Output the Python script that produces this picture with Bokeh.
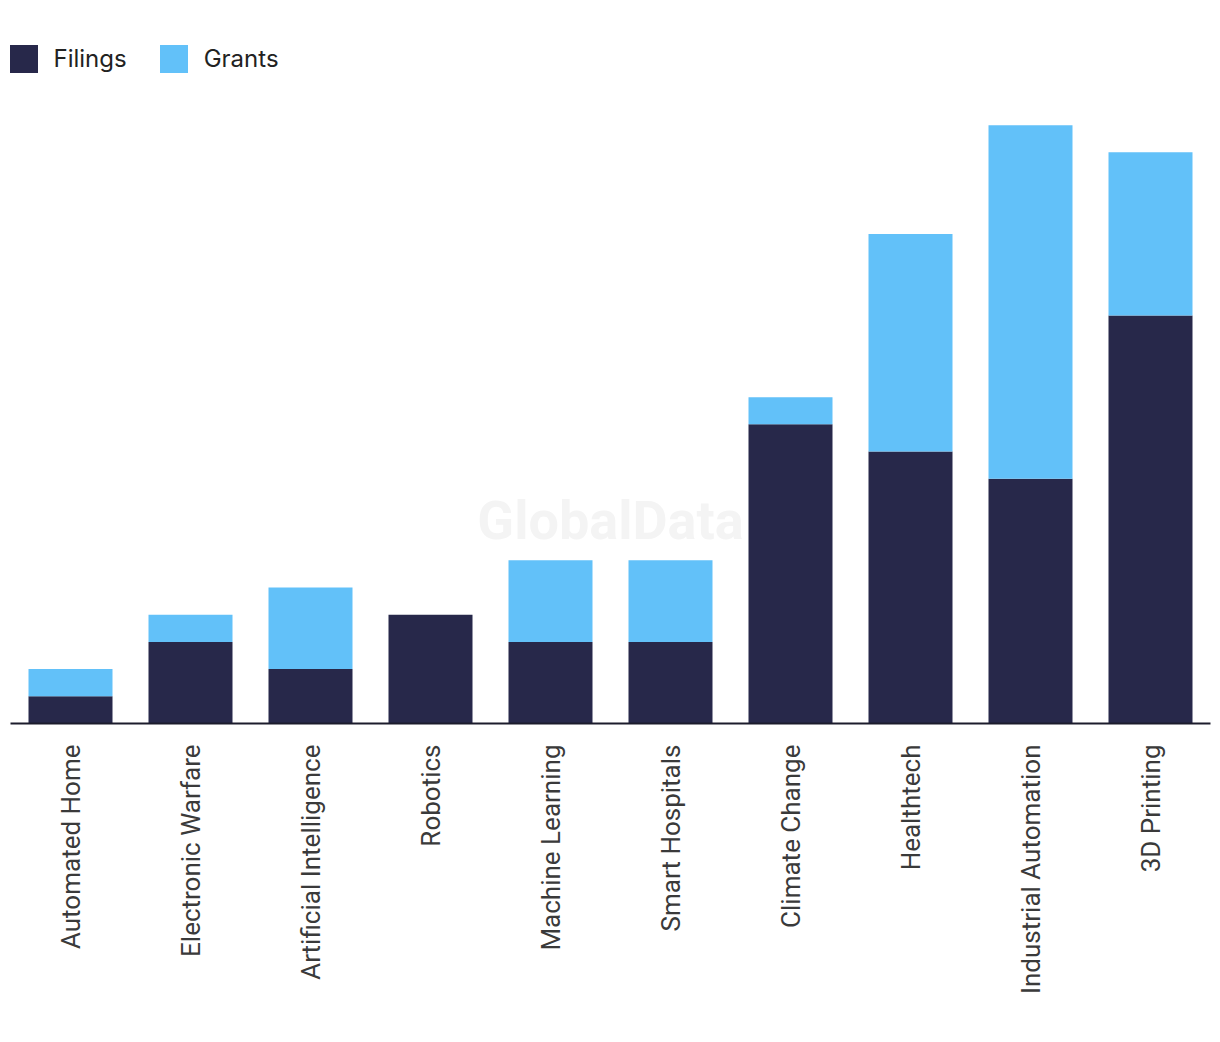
import math
from bokeh.plotting import figure
from bokeh.models import ColumnDataSource, Range1d
from bokeh.core.properties import value
from bokeh.embed import file_html
from bokeh.resources import INLINE

categories = ["Automated Home", "Electronic Warfare", "Artificial Intelligence", "Robotics",
              "Machine Learning", "Smart Hospitals", "Climate Change", "Healthtech",
              "Industrial Automation", "3D Printing"]
filings = [1, 3, 2, 4, 3, 3, 11, 10, 9, 15]
grants = [1, 1, 3, 0, 3, 3, 1, 8, 13, 6]
series = ["Filings", "Grants"]
colors = ["#27284a", "#62c1f9"]

source = ColumnDataSource(data=dict(cat=categories, Filings=filings, Grants=grants))

p = figure(x_range=categories, y_range=Range1d(0, 26.29), width=1220, height=1028,
           output_backend="svg", toolbar_location=None, y_axis_location=None,
           min_border_left=10, min_border_right=10, min_border_top=8, min_border_bottom=305)

p.vbar_stack(series, x="cat", width=0.7, color=colors, source=source,
             legend_label=series, line_width=0)

# watermark
p.text(x=["Smart Hospitals"], y=[7.46], text=["GlobalData"], x_offset=-60,
       text_font=value("Roboto"), text_font_style="bold", text_font_size="54px",
       text_color="#f4f4f4", text_align="center", text_baseline="middle", level="underlay")

p.outline_line_color = None
p.xgrid.grid_line_color = None
p.ygrid.grid_line_color = None
p.background_fill_color = "white"
p.border_fill_color = "white"

ax = p.xaxis[0]
ax.axis_line_color = "#1c1c2c"
ax.axis_line_width = 2
ax.major_tick_line_color = None
ax.minor_tick_line_color = None
ax.major_label_orientation = math.pi / 2
ax.major_label_standoff = 15
ax.major_label_text_font = "Roboto"
ax.major_label_text_font_size = "26px"
ax.major_label_text_color = "#3a3a3a"

lg = p.legend[0]
lg.orientation = "horizontal"
lg.location = (-4.5, 647.5)
lg.glyph_width = 35
lg.glyph_height = 35
lg.label_standoff = 13
lg.spacing = 29
lg.padding = 0
lg.margin = 0
lg.border_line_color = None
lg.background_fill_alpha = 0
lg.label_text_font = "Inter"
lg.label_text_font_size = "24px"
lg.label_text_color = "#222222"

open("out.html", "w").write(file_html(p, INLINE))
